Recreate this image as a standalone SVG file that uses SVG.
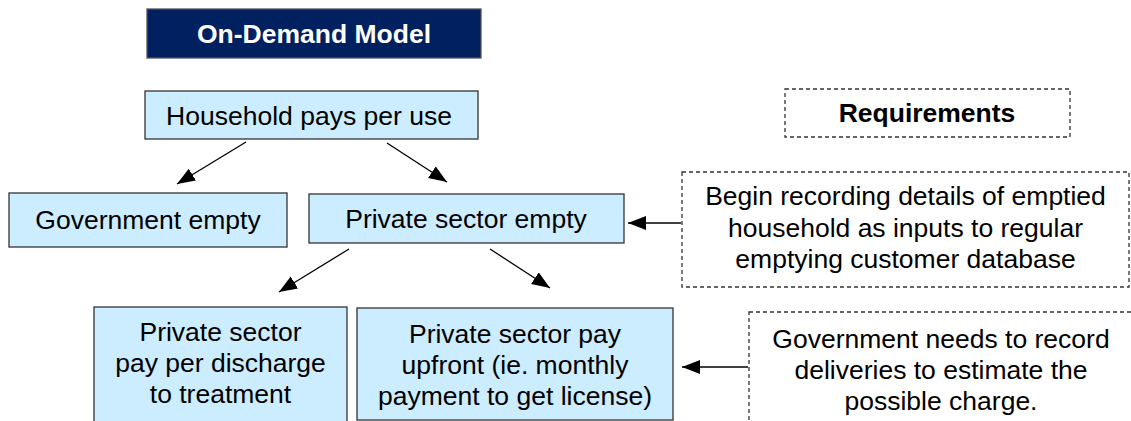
<svg xmlns="http://www.w3.org/2000/svg" width="1131" height="421" viewBox="0 0 1131 421">
  <defs>
    <marker id="arrow" markerUnits="userSpaceOnUse" markerWidth="19" markerHeight="15" refX="18" refY="7" orient="auto">
      <path d="M0,0 L18,7 L0,14 z" fill="#000"/>
    </marker>
    <style>
      .box { fill: #CCECFF; stroke: #333; stroke-width: 1.3; }
      .title { fill: #002060; stroke: #555; stroke-width: 1.3; }
      .req { fill: #fff; stroke: #333; stroke-width: 1.3; stroke-dasharray: 4 3; }
      .txt { font-family: "Liberation Sans", Arial, sans-serif; font-size: 26.5px; fill: #000; text-anchor: middle; }
      .bold { font-weight: bold; }
      .white { fill: #fff; }
      .conn { stroke: #000; stroke-width: 1.3; fill: none; marker-end: url(#arrow); }
    </style>
  </defs>
  <rect width="1131" height="421" fill="#fff"/>

  <g id="title">
    <rect class="title" x="147" y="9" width="334" height="49"/>
    <text class="txt bold white" x="314" y="43">On-Demand Model</text>
  </g>

  <g id="household">
    <rect class="box" x="145" y="91" width="333" height="48"/>
    <text class="txt" x="309" y="125">Household pays per use</text>
  </g>

  <g id="gov-empty">
    <rect class="box" x="9" y="193" width="278" height="54"/>
    <text class="txt" x="148" y="229">Government empty</text>
  </g>

  <g id="private-empty">
    <rect class="box" x="309" y="194" width="315" height="49"/>
    <text class="txt" x="466" y="228">Private sector empty</text>
  </g>

  <g id="pay-per-discharge">
    <rect class="box" x="94" y="307" width="253" height="125"/>
    <text class="txt" x="220.5" y="341">Private sector</text>
    <text class="txt" x="220.5" y="372">pay per discharge</text>
    <text class="txt" x="220.5" y="403">to treatment</text>
  </g>

  <g id="pay-upfront">
    <rect class="box" x="357" y="308" width="316" height="112"/>
    <text class="txt" x="515" y="343">Private sector pay</text>
    <text class="txt" x="515" y="374">upfront (ie. monthly</text>
    <text class="txt" x="515" y="405">payment to get license)</text>
  </g>

  <g id="requirements">
    <rect class="req" x="785" y="89" width="285" height="48"/>
    <text class="txt bold" x="927" y="122">Requirements</text>
  </g>

  <g id="req-recording">
    <rect class="req" x="682" y="172" width="447" height="115"/>
    <text class="txt" x="905.5" y="205">Begin recording details of emptied</text>
    <text class="txt" x="905.5" y="237">household as inputs to regular</text>
    <text class="txt" x="905.5" y="268">emptying customer database</text>
  </g>

  <g id="req-deliveries">
    <rect class="req" x="749" y="312" width="384" height="125"/>
    <text class="txt" x="941" y="348">Government needs to record</text>
    <text class="txt" x="941" y="379">deliveries to estimate the</text>
    <text class="txt" x="941" y="410">possible charge.</text>
  </g>

  <g id="connectors">
    <line class="conn" x1="246" y1="142" x2="177" y2="184"/>
    <line class="conn" x1="387" y1="143" x2="447" y2="182"/>
    <line class="conn" x1="349" y1="249" x2="279" y2="292"/>
    <line class="conn" x1="490" y1="249" x2="550" y2="288"/>
    <line class="conn" x1="681" y1="223" x2="628" y2="223"/>
    <line class="conn" x1="748" y1="367" x2="682" y2="367"/>
  </g>
</svg>
